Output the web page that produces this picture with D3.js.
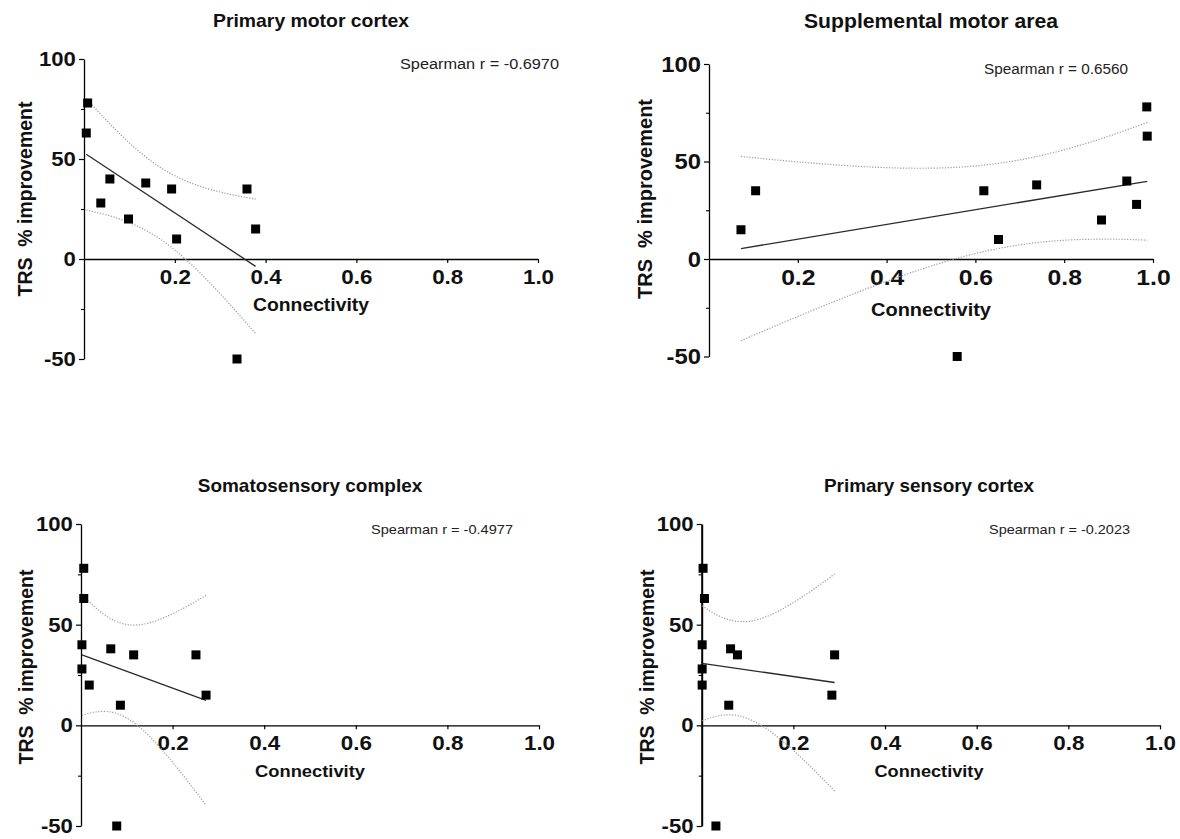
<!DOCTYPE html>
<html>
<head>
<meta charset="utf-8">
<script src="https://cdn.jsdelivr.net/npm/d3@7"></script>
<style>
  body { margin: 0; background: #fff; }
  svg { display: block; }
  text { font-family: Arial, "Liberation Sans", sans-serif; }
</style>
</head>
<body>
<svg id="chart" width="1180" height="839"></svg>
<script>
// ---------------- DATA ----------------
const panelTitles = ["Primary motor cortex", "Supplemental motor area", "Somatosensory complex", "Primary sensory cortex"];
const spearmanLabels = ["Spearman r = -0.6970", "Spearman r = 0.6560", "Spearman r = -0.4977", "Spearman r = -0.2023"];
const xAxisLabel = "Connectivity";
const yAxisLabel = "TRS  % improvement";
const xTickValues = [0.2, 0.4, 0.6, 0.8, 1.0];
const xTickLabels = ["0.2", "0.4", "0.6", "0.8", "1.0"];
const yTickValues = [-50, 0, 50, 100];
const yTickLabels = ["-50", "0", "50", "100"];
const yMinorTickValues = [-25, 25, 75];

// Primary motor cortex
const m1Connectivity = [0.008, 0.005, 0.037, 0.057, 0.098, 0.136, 0.193, 0.204, 0.359, 0.378, 0.337];
const m1Improvement  = [78, 63, 28, 40, 20, 38, 35, 10, 35, 15, -50];
// Supplemental motor area
const smaConnectivity = [0.072, 0.105, 0.619, 0.652, 0.738, 0.884, 0.941, 0.963, 0.986, 0.987, 0.559];
const smaImprovement  = [15, 35, 35, 10, 38, 20, 40, 28, 78, 63, -50];
// Somatosensory complex
const somConnectivity = [0.006, 0.006, 0.002, 0.002, 0.018, 0.065, 0.115, 0.251, 0.273, 0.086, 0.078];
const somImprovement  = [78, 63, 40, 28, 20, 38, 35, 35, 15, 10, -50];
// Primary sensory cortex
const s1Connectivity = [0.003, 0.006, 0.001, 0.001, 0.001, 0.063, 0.078, 0.059, 0.290, 0.284, 0.031];
const s1Improvement  = [78, 63, 40, 28, 20, 38, 35, 10, 35, 15, -50];

// Student t critical value (two-sided 95%, df = n - 2 = 9) for the regression confidence band
const T_CRIT_95 = 2.2622;

const seriesX = [m1Connectivity, smaConnectivity, somConnectivity, s1Connectivity];
const seriesY = [m1Improvement, smaImprovement, somImprovement, s1Improvement];

// ---------------- LAYOUT ----------------
const layouts = [
  {x0:84, x1:538, y100:59, yM50:359, xTickFs:19.5, yTickFs:20.5,
   titleX:311, titleY:27, titleFs:19, titleW:196,
   spX:559, spY:69, spFs:14, spW:159,
   xlabX:311, xlabY:311, xlabFs:17.5, xlabW:116,
   ylabX:25, ylabY:199, ylabFs:19.5, yAxisW:1.3},
  {x0:709, x1:1153, y100:64, yM50:356.5, xTickFs:21.5, yTickFs:22,
   titleX:931, titleY:28, titleFs:20.5, titleW:254,
   spX:1128, spY:74, spFs:14, spW:144,
   xlabX:931, xlabY:316, xlabFs:18, xlabW:120,
   ylabX:645, ylabY:199, ylabFs:20, yAxisW:1.3},
  {x0:81, x1:539, y100:524, yM50:826, xTickFs:19.5, yTickFs:20.5,
   titleX:310, titleY:491.5, titleFs:19, titleW:224.5,
   spX:513, spY:534, spFs:13.5, spW:142,
   xlabX:310, xlabY:776.5, xlabFs:17, xlabW:110,
   ylabX:25.5, ylabY:667, ylabFs:19.5, yAxisW:1.3},
  {x0:701.7, x1:1160, y100:524, yM50:826, xTickFs:19.5, yTickFs:20.5,
   titleX:929, titleY:491.5, titleFs:19, titleW:210,
   spX:1130, spY:534, spFs:13.5, spW:141,
   xlabX:929, xlabY:776.5, xlabFs:17, xlabW:109,
   ylabX:647, ylabY:667, ylabFs:19.5, yAxisW:2}
];

const svg = d3.select("#chart");

function regression(xs, ys) {
  const n = xs.length;
  const mx = d3.mean(xs), my = d3.mean(ys);
  const sxx = d3.sum(xs, x => (x - mx) * (x - mx));
  const sxy = d3.sum(xs.map((x, i) => (x - mx) * (ys[i] - my)));
  const slope = sxy / sxx;
  const intercept = my - slope * mx;
  const ssRes = d3.sum(xs.map((x, i) => Math.pow(ys[i] - (intercept + slope * x), 2)));
  const s = Math.sqrt(ssRes / (n - 2));
  return {n, mx, sxx, slope, intercept, s};
}

panelTitles.forEach((title, p) => {
  const L = layouts[p];
  const xs = seriesX[p], ys = seriesY[p];
  const x = d3.scaleLinear().domain([0, 1]).range([L.x0, L.x1]);
  const y = d3.scaleLinear().domain([-50, 100]).range([L.yM50, L.y100]);
  const g = svg.append("g");

  // x axis at y = 0
  const xAxis = g.append("g")
    .attr("transform", `translate(0,${y(0)})`)
    .call(d3.axisBottom(x).tickValues(xTickValues)
      .tickFormat((d, i) => xTickLabels[i])
      .tickSize(4).tickSizeOuter(0).tickPadding(7));
  xAxis.select(".domain").attr("stroke", "#000").attr("stroke-width", 1.3);
  xAxis.selectAll(".tick line").attr("stroke", "#000").attr("stroke-width", 1.2);
  xAxis.selectAll(".tick text")
    .attr("font-size", L.xTickFs).attr("font-weight", "bold").attr("fill", "#111")
    .attr("transform", "scale(1.15,1)");

  // y axis at x = 0
  const yAxis = g.append("g")
    .attr("transform", `translate(${x(0)},0)`)
    .call(d3.axisLeft(y).tickValues(yTickValues)
      .tickFormat((d, i) => yTickLabels[i])
      .tickSize(5).tickSizeOuter(0).tickPadding(2.5));
  yAxis.select(".domain").attr("stroke", "#000").attr("stroke-width", L.yAxisW);
  yAxis.selectAll(".tick line").attr("stroke", "#000").attr("stroke-width", 1.2);
  yAxis.selectAll(".tick text")
    .attr("font-size", L.yTickFs).attr("font-weight", "bold").attr("fill", "#111")
    .attr("transform", "scale(1.08,1)");

  const yMinor = g.append("g")
    .attr("transform", `translate(${x(0)},0)`)
    .call(d3.axisLeft(y).tickValues(yMinorTickValues).tickFormat("").tickSize(3).tickSizeOuter(0));
  yMinor.select(".domain").remove();
  yMinor.selectAll(".tick line").attr("stroke", "#000").attr("stroke-width", 1.1);

  // regression fit and 95% confidence band (computed from the plotted points)
  const r = regression(xs, ys);
  const xmin = d3.min(xs), xmax = d3.max(xs);
  const fit = xv => r.intercept + r.slope * xv;
  const half = xv => T_CRIT_95 * r.s * Math.sqrt(1 / r.n + (xv - r.mx) * (xv - r.mx) / r.sxx);
  const samples = d3.range(0, 61).map(i => xmin + (xmax - xmin) * i / 60);
  const line = d3.line().x(d => x(d[0])).y(d => y(d[1]));

  g.append("path")
    .attr("d", line(samples.map(v => [v, fit(v) + half(v)])))
    .attr("fill", "none").attr("stroke", "#9a9a9a").attr("stroke-width", 1.2)
    .attr("stroke-dasharray", "1.2,1.6");
  g.append("path")
    .attr("d", line(samples.map(v => [v, fit(v) - half(v)])))
    .attr("fill", "none").attr("stroke", "#9a9a9a").attr("stroke-width", 1.2)
    .attr("stroke-dasharray", "1.2,1.6");
  g.append("path")
    .attr("d", line([[xmin, fit(xmin)], [xmax, fit(xmax)]]))
    .attr("fill", "none").attr("stroke", "#2a2a2a").attr("stroke-width", 1.3);

  // points (filled squares)
  const sz = 9;
  g.selectAll("rect.pt").data(xs.map((v, i) => [v, ys[i]])).join("rect")
    .attr("class", "pt")
    .attr("x", d => x(d[0]) - sz / 2).attr("y", d => y(d[1]) - sz / 2)
    .attr("width", sz).attr("height", sz).attr("fill", "#000");

  // texts
  g.append("text").text(title)
    .attr("x", L.titleX).attr("y", L.titleY).attr("text-anchor", "middle")
    .attr("font-size", L.titleFs).attr("font-weight", "bold").attr("fill", "#111")
    .attr("textLength", L.titleW).attr("lengthAdjust", "spacingAndGlyphs");

  g.append("text").text(spearmanLabels[p])
    .attr("x", L.spX).attr("y", L.spY).attr("text-anchor", "end")
    .attr("font-size", L.spFs).attr("fill", "#222")
    .attr("textLength", L.spW).attr("lengthAdjust", "spacingAndGlyphs");

  g.append("text").text(xAxisLabel)
    .attr("x", L.xlabX).attr("y", L.xlabY).attr("text-anchor", "middle")
    .attr("font-size", L.xlabFs).attr("font-weight", "bold").attr("fill", "#111")
    .attr("textLength", L.xlabW).attr("lengthAdjust", "spacingAndGlyphs");

  g.append("text").text(yAxisLabel)
    .attr("transform", `translate(${L.ylabX},${L.ylabY}) rotate(-90)`)
    .attr("text-anchor", "middle").attr("dy", "0.36em")
    .style("white-space", "pre")
    .attr("font-size", L.ylabFs).attr("font-weight", "bold").attr("fill", "#111");
});
</script>
</body>
</html>
